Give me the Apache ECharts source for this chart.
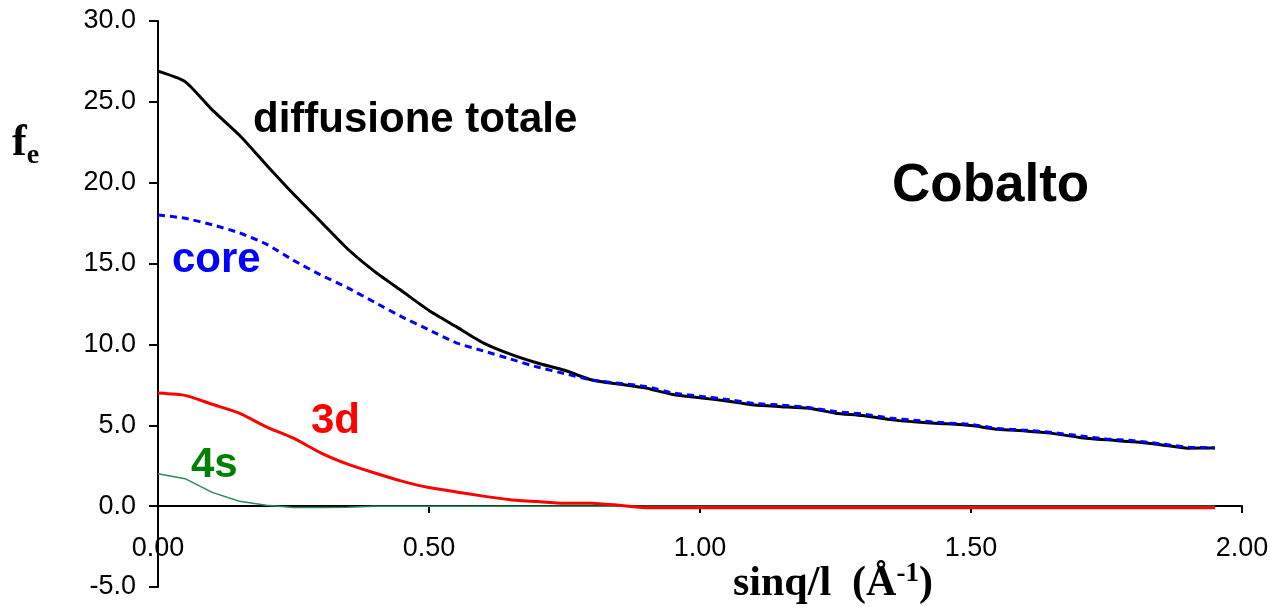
<!DOCTYPE html>
<html>
<head>
<meta charset="utf-8">
<script src="https://cdn.jsdelivr.net/npm/echarts@6/dist/echarts.min.js"></script>
<style>
  html, body { margin: 0; padding: 0; background: #fff; }
  #chart { width: 1270px; height: 607px; }
</style>
</head>
<body>
<div id="chart"></div>
<script>
// fattori di diffusione elettronica del cobalto
var sinThetaL = [0.00, 0.05, 0.10, 0.15, 0.20, 0.25, 0.30, 0.35, 0.40, 0.45,
                 0.50, 0.55, 0.60, 0.65, 0.70, 0.75, 0.80, 0.85, 0.90, 0.95,
                 1.00, 1.05, 1.10, 1.15, 1.20, 1.25, 1.30, 1.35, 1.40, 1.45,
                 1.50, 1.55, 1.60, 1.65, 1.70, 1.75, 1.80, 1.85, 1.90, 1.95];

var totale = [26.9, 26.25, 24.5, 22.95, 21.1, 19.3, 17.6, 15.9, 14.5, 13.3,
              12.1, 11.1, 10.1, 9.4, 8.85, 8.4, 7.8, 7.55, 7.3, 6.9,
              6.7, 6.5, 6.25, 6.15, 6.05, 5.75, 5.6, 5.35, 5.2, 5.1,
              4.98, 4.75, 4.65, 4.5, 4.25, 4.1, 3.98, 3.8, 3.58, 3.6];

var core = [18.0, 17.8, 17.4, 16.9, 16.2, 15.2, 14.3, 13.5, 12.6, 11.7,
            10.9, 10.1, 9.6, 9.1, 8.6, 8.2, 7.8, 7.6, 7.4, 7.0,
            6.8, 6.6, 6.35, 6.25, 6.1, 5.85, 5.7, 5.45, 5.3, 5.15,
            5.05, 4.8, 4.7, 4.55, 4.35, 4.15, 4.05, 3.85, 3.65, 3.6];

var orb3d = [7.0, 6.85, 6.3, 5.75, 4.9, 4.2, 3.3, 2.6, 2.05, 1.55,
             1.15, 0.88, 0.62, 0.4, 0.28, 0.18, 0.18, 0.05, -0.1, -0.1,
             -0.1, -0.1, -0.1, -0.1, -0.1, -0.1, -0.1, -0.1, -0.1, -0.1,
             -0.1, -0.1, -0.1, -0.1, -0.1, -0.1, -0.1, -0.1, -0.1, -0.1];

var orb4s = [2.0, 1.7, 0.85, 0.3, 0.05, -0.08, -0.08, -0.07, 0.0, 0.0,
             0.0, 0.0, 0.0, 0.0, 0.0, 0.0, 0.0, 0.0, 0.0, 0.0,
             0.0, 0.0, 0.0, 0.0, 0.0, 0.0, 0.0, 0.0, 0.0, 0.0,
             0.0, 0.0, 0.0, 0.0, 0.0, 0.0, 0.0, 0.0, 0.0, 0.0];

function coppie(ys) {
    return sinThetaL.map(function (x, i) { return [x, ys[i]]; });
}

var chart = echarts.init(document.getElementById('chart'));

var option = {
    backgroundColor: '#fff',
    animation: false,
    grid: { left: 158, right: 28, top: 21, bottom: 20, containLabel: false, outerBoundsMode: 'none' },
    xAxis: {
        type: 'value',
        min: 0, max: 2, interval: 0.5,
        position: 'bottom',
        offset: -81,   // asse x sulla riga y = 0
        axisLine: { onZero: false, lineStyle: { color: '#000', width: 2 } },
        axisTick: { inside: false, length: 7, lineStyle: { color: '#000', width: 2 } },
        axisLabel: {
            margin: 29,
            color: '#000',
            fontFamily: 'Liberation Sans',
            fontSize: 27,
            formatter: function (v) { return v.toFixed(2); }
        },
        splitLine: { show: false }
    },
    yAxis: {
        type: 'value',
        min: -5, max: 30, interval: 5,
        axisLine: { show: true, onZero: false, lineStyle: { color: '#000', width: 2 } },
        axisTick: { show: true, length: 9, lineStyle: { color: '#000', width: 2 } },
        axisLabel: {
            margin: 22,
            color: '#000',
            fontFamily: 'Liberation Sans',
            fontSize: 27,
            formatter: function (v) { return v.toFixed(1); }
        },
        splitLine: { show: false }
    },
    series: [
        {
            name: '4s', type: 'line', symbol: 'none',
            data: coppie(orb4s),
            lineStyle: { color: '#2e8b57', width: 1.5 }
        },
        {
            name: '3d', type: 'line', symbol: 'none', smooth: 0.2,
            data: coppie(orb3d),
            lineStyle: { color: '#ff0000', width: 3 }
        },
        {
            name: 'diffusione totale', type: 'line', symbol: 'none', smooth: 0.2,
            data: coppie(totale),
            lineStyle: { color: '#000', width: 3 }
        },
        {
            name: 'core', type: 'line', symbol: 'none', smooth: 0.2,
            data: coppie(core),
            lineStyle: { color: '#0000ff', width: 3, type: [7, 5] }
        }
    ],
    graphic: [
        { type: 'text', left: 253, top: 99,
          style: { text: 'diffusione totale', fill: '#000', font: 'bold 42px "Liberation Sans"' } },
        { type: 'text', left: 892, top: 160,
          style: { text: 'Cobalto', fill: '#000', font: 'bold 53px "Liberation Sans"' } },
        { type: 'text', left: 172, top: 239,
          style: { text: 'core', fill: '#0000ff', font: 'bold 42px "Liberation Sans"' } },
        { type: 'text', left: 311, top: 400,
          style: { text: '3d', fill: '#ff0000', font: 'bold 42px "Liberation Sans"' } },
        { type: 'text', left: 191, top: 444,
          style: { text: '4s', fill: '#008000', font: 'bold 42px "Liberation Sans"' } },
        { type: 'text', left: 12, top: 122,
          style: {
              text: '{f|f}{e|e}',
              rich: {
                  f: { font: 'bold 44px "Liberation Serif"', fill: '#000' },
                  e: { font: 'bold 28px "Liberation Serif"', fill: '#000', padding: [24, 0, 0, 0] }
              }
          } },
        { type: 'text', left: 733, top: 561,
          style: {
              text: '{a|sinq/l  (Å}{s|-1}{a|)}',
              rich: {
                  a: { font: 'bold 42px "Liberation Serif"', fill: '#000' },
                  s: { font: 'bold 27px "Liberation Serif"', fill: '#000', padding: [0, 0, 20, 0] }
              }
          } }
    ]
};

chart.setOption(option);
</script>
</body>
</html>
